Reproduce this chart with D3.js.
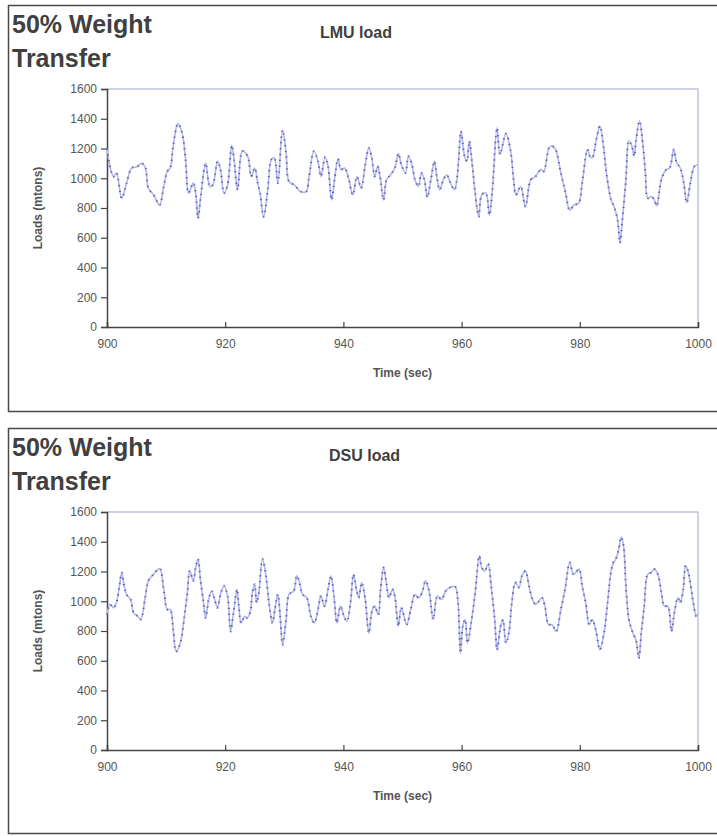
<!DOCTYPE html>
<html>
<head>
<meta charset="utf-8">
<script src="https://cdn.jsdelivr.net/npm/d3@7"></script>
<style>
  body { margin: 0; background: #fff; }
  text { font-family: Arial, "Liberation Sans", sans-serif; }
</style>
</head>
<body>
<div id="chart"></div>
<script>
const width = 717;
const height = 836;

// LMU load (time in sec, load in mtons)
const lmuTime = [900, 900.5, 901.1, 901.6, 902.5, 903.3, 904.2, 905.0, 905.9, 906.5, 907.0, 907.9, 908.9, 909.6,
  910.2, 910.7, 911.2, 912.0, 912.7, 913.3, 913.8, 914.6, 915.0, 915.4, 915.8, 916.7, 917.4, 917.9, 918.7, 919.2,
  919.8, 920.4, 921.1, 921.5, 922.1, 922.9, 923.8, 924.4, 925.0, 925.5, 925.9, 926.5, 927.2, 927.8, 928.3, 928.9,
  929.7, 930.3, 930.8, 931.7, 932.8, 933.7, 934.2, 935.0, 935.7, 936.2, 936.9, 937.4, 938.0, 938.5, 939.1, 939.6,
  940.2, 940.8, 941.6, 942.3, 943.0, 943.7, 944.3, 944.8, 945.3, 945.8, 946.2, 946.8, 947.3, 948.0, 948.7, 949.3,
  949.8, 950.5, 951.0, 951.6, 952.1, 952.7, 953.2, 953.7, 954.2, 954.8, 955.4, 955.8, 956.3, 956.9, 957.5, 958.0,
  958.8, 959.2, 959.5, 959.9, 960.5, 960.9, 961.3, 961.8, 962.3, 962.9, 963.4, 964.1, 964.7, 965.2, 966.0, 966.5,
  967.5, 968.3, 968.8, 969.2, 970.0, 970.8, 971.7, 972.5, 973.4, 973.9, 974.8, 975.3, 975.9, 976.8, 977.6, 978.3,
  979.0, 979.8, 980.4, 981.3, 981.7, 982.1, 982.8, 983.4, 984.0, 984.5, 985.3, 985.8, 986.4, 986.8, 987.2, 987.8,
  988.3, 988.8, 989.2, 989.5, 990.1, 990.7, 991.1, 991.5, 992.1, 992.6, 993.0, 993.8, 994.6, 995.2, 995.9, 996.4,
  997.0, 997.6, 998.1, 998.7, 999.4, 1000];
const lmuLoad = [1200, 1080, 1010, 1035, 865, 967, 1070, 1075, 1100, 1070, 933, 888, 820, 945,
  1046, 1070, 1216, 1367, 1306, 1125, 900, 967, 900, 730, 854, 1100, 945, 955, 1114, 1058,
  900, 955, 1222, 1125, 922, 1182, 1148, 1012, 1069, 967, 900, 741, 922, 1125, 1137, 967,
  1324, 1170, 978, 955, 910, 910, 1012, 1182, 1114, 1012, 1143, 1080, 854, 990, 1130, 1058,
  1069, 1012, 888, 1012, 933, 1091, 1204, 1137, 1012, 1080, 1012, 854, 990, 1024, 1069, 1166,
  1091, 1035, 1148, 1091, 990, 945, 1035, 990, 872, 990, 1114, 1012, 922, 990, 1024, 978,
  922, 990, 1125, 1317, 1148, 1114, 1250, 1091, 900, 741, 888, 900, 752, 922, 1340, 1160,
  1300, 1182, 990, 888, 945, 809, 990, 1012, 1058, 1046, 1204, 1216, 1193, 1035, 900, 786,
  820, 832, 967, 1193, 1148, 1137, 1261, 1351, 1216, 1035, 854, 809, 719, 565, 719, 990,
  1250, 1216, 1148, 1250, 1385, 1216, 1035, 866, 877, 854, 813, 990, 1058, 1069, 1193, 1103,
  1069, 967, 836, 967, 1080, 1091];

// DSU load
const dsuTime = [900, 900.5, 901.1, 901.6, 902.1, 902.5, 902.9, 903.3, 904.0, 904.5, 905.2, 905.7, 906.5, 907.0,
  907.9, 908.9, 909.6, 910.2, 910.7, 911.2, 911.7, 912.4, 913.1, 913.6, 914.0, 914.6, 915.0, 915.4, 915.8, 916.3,
  916.7, 917.2, 917.7, 918.2, 918.7, 919.2, 919.8, 920.4, 920.9, 921.4, 922.0, 922.3, 922.7, 923.3, 923.7, 924.2,
  924.6, 925.0, 925.3, 925.7, 926.3, 926.9, 927.4, 928.0, 928.4, 928.9, 929.3, 929.7, 930.3, 930.8, 931.6, 932.1,
  932.5, 933.1, 933.8, 934.5, 935.1, 935.7, 936.2, 936.8, 937.4, 937.9, 938.4, 938.9, 939.5, 940.1, 940.6, 941.2,
  941.7, 942.2, 942.6, 943.1, 943.7, 944.3, 944.9, 945.3, 945.9, 946.3, 946.8, 947.3, 947.7, 948.3, 948.7, 949.3,
  949.8, 950.7, 951.4, 952.1, 952.7, 953.3, 953.9, 954.5, 955.2, 955.9, 956.6, 957.3, 958.0, 958.9, 959.4, 959.8,
  960.2, 960.6, 961.0, 961.7, 962.3, 963.0, 963.4, 963.9, 964.5, 965.0, 965.6, 966.0, 966.6, 967.0, 967.5, 968.0,
  968.5, 969.1, 969.7, 970.2, 970.8, 971.4, 971.9, 972.5, 973.1, 973.6, 974.1, 974.7, 975.3, 976.0, 976.8, 977.5,
  978.3, 978.9, 979.3, 979.9, 980.4, 981.0, 981.6, 982.1, 982.7, 983.4, 984.1, 984.7, 985.3, 985.7, 986.1, 986.6,
  987.0, 987.4, 987.8, 988.3, 988.7, 989.1, 989.5, 990.0, 990.4, 990.9, 991.5, 992.1, 992.6, 993.2, 993.8, 994.3,
  994.9, 995.5, 996.0, 996.6, 997.0, 997.5, 997.9, 998.3, 998.9, 999.2, 999.7, 1000];
const dsuLoad = [911, 979, 956, 990, 1103, 1193, 1103, 1046, 1012, 922, 899, 877, 1035, 1137,
  1182, 1220, 1080, 945, 945, 809, 662, 719, 899, 1058, 1204, 1137, 1227, 1284, 1148, 1001,
  888, 1012, 1069, 1012, 956, 1046, 1103, 1035, 797, 922, 1080, 967, 854, 899, 888, 922,
  1058, 1114, 990, 1058, 1284, 1171, 990, 854, 945, 1046, 899, 707, 877, 1046, 1069, 1171,
  1137, 1046, 1024, 899, 854, 945, 1035, 967, 1080, 1171, 1035, 854, 967, 899, 866, 990,
  1182, 1080, 1024, 1126, 1012, 786, 945, 967, 911, 1080, 1227, 1114, 1024, 1080, 1035, 832,
  960, 843, 945, 1046, 1024, 1058, 1137, 1069, 877, 1035, 1012, 1069, 1092, 1098, 990, 651,
  832, 877, 719, 877, 1058, 1306, 1227, 1204, 1250, 1103, 877, 673, 832, 877, 719, 787,
  990, 1126, 1092, 1171, 1204, 1103, 1024, 979, 1001, 1024, 967, 843, 843, 797, 945, 1080,
  1261, 1182, 1193, 1216, 1103, 990, 843, 877, 809, 673, 787, 990, 1204, 1261, 1284, 1352,
  1431, 1374, 1103, 877, 820, 775, 741, 617, 787, 967, 1182, 1193, 1216, 1182, 1058, 967,
  967, 797, 922, 1024, 990, 1080, 1239, 1204, 1069, 990, 899, 920];

const yTicks = [0, 200, 400, 600, 800, 1000, 1200, 1400, 1600];
const xTicks = [900, 920, 940, 960, 980, 1000];

const panels = [
  { name: "LMU load", time: lmuTime, load: lmuLoad, top: 5, bottom: 411, plotTop: 89, plotBottom: 327, titleX: 320 },
  { name: "DSU load", time: dsuTime, load: dsuLoad, top: 428, bottom: 833, plotTop: 512, plotBottom: 750, titleX: 329 }
];

const plotLeft = 107;
const plotRight = 698;

const svg = d3.select("#chart")
  .append("svg")
  .attr("width", width)
  .attr("height", height);

panels.forEach(p => drawPanel(p));

function drawPanel(p) {
  const g = svg.append("g");

  // panel frame
  g.append("rect")
    .attr("x", 8.5)
    .attr("y", p.top + 0.5)
    .attr("width", width + 10)
    .attr("height", p.bottom - p.top)
    .attr("fill", "none")
    .attr("stroke", "#4a4a4a")
    .attr("stroke-width", 1.5);

  g.append("text")
    .attr("x", 12)
    .attr("y", p.top + 28)
    .style("font-size", "25px")
    .style("font-weight", "bold")
    .attr("fill", "#404040")
    .text("50% Weight");

  g.append("text")
    .attr("x", 12)
    .attr("y", p.top + 62)
    .style("font-size", "25px")
    .style("font-weight", "bold")
    .attr("fill", "#404040")
    .text("Transfer");

  g.append("text")
    .attr("x", p.titleX)
    .attr("y", p.top + 33)
    .style("font-size", "16px")
    .style("font-weight", "bold")
    .attr("fill", "#404040")
    .text(p.name);

  const xScale = d3.scaleLinear()
    .domain([900, 1000])
    .range([plotLeft, plotRight]);

  const yScale = d3.scaleLinear()
    .domain([0, 1600])
    .range([p.plotBottom, p.plotTop]);

  // plot area border (top and right)
  g.append("path")
    .attr("d", `M${plotLeft},${p.plotTop}H${plotRight}V${p.plotBottom}`)
    .attr("fill", "none")
    .attr("stroke", "#c0c2dc")
    .attr("stroke-width", 1.5);

  const yAxis = d3.axisLeft(yScale)
    .tickValues(yTicks)
    .tickSize(6)
    .tickPadding(4)
    .tickFormat(d3.format("d"));

  const xAxis = d3.axisBottom(xScale)
    .tickValues(xTicks)
    .tickSize(-5)
    .tickPadding(12)
    .tickFormat(d3.format("d"));

  const ya = g.append("g")
    .attr("transform", `translate(${plotLeft},0)`)
    .call(yAxis);

  const xa = g.append("g")
    .attr("transform", `translate(0,${p.plotBottom})`)
    .call(xAxis);

  [ya, xa].forEach(a => {
    a.select(".domain").attr("stroke", "#444").attr("stroke-width", 1.5);
    a.selectAll(".tick line").attr("stroke", "#444").attr("stroke-width", 1.2);
    a.selectAll(".tick text")
      .attr("fill", "#555")
      .style("font-size", "12px")
      .style("font-family", "Arial, 'Liberation Sans', sans-serif");
  });

  g.append("text")
    .attr("transform", `translate(42,${(p.plotTop + p.plotBottom) / 2}) rotate(-90)`)
    .attr("text-anchor", "middle")
    .style("font-size", "12px")
    .style("font-weight", "bold")
    .attr("fill", "#555")
    .text("Loads (mtons)");

  g.append("text")
    .attr("x", (plotLeft + plotRight) / 2)
    .attr("y", p.plotBottom + 50)
    .attr("text-anchor", "middle")
    .style("font-size", "12px")
    .style("font-weight", "bold")
    .attr("fill", "#555")
    .text("Time (sec)");

  const points = p.time.map((t, i) => [t, p.load[i]]);

  const line = d3.line()
    .x(d => xScale(d[0]))
    .y(d => yScale(d[1]))
    .curve(d3.curveCatmullRom.alpha(0.5));

  g.append("path")
    .datum(points)
    .attr("d", line)
    .attr("fill", "none")
    .attr("stroke", "#b2b5ee")
    .attr("stroke-width", 1.6);

  // dense markers along the series
  g.append("path")
    .datum(points)
    .attr("d", line)
    .attr("fill", "none")
    .attr("stroke", "#3b3f86")
    .attr("stroke-width", 2)
    .attr("stroke-dasharray", "1.3 4.5")
    .attr("opacity", 0.7);
}
</script>
</body>
</html>
